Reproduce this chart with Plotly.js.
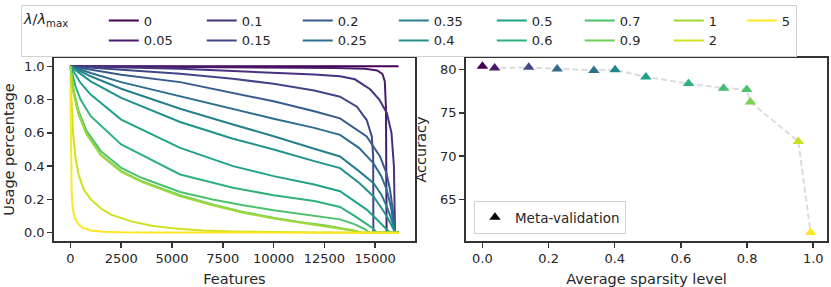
<!DOCTYPE html>
<html><head><meta charset="utf-8">
<script src="https://cdn.plot.ly/plotly-3.0.1.min.js"></script>
<style>html,body{margin:0;padding:0;background:#fff}</style>
</head><body><div id="chart" style="width:831px;height:287px"></div>
<script>
// ---- legend labels (lambda / lambda_max) ----
const lambdaLabels = ['0','0.05','0.1','0.15','0.2','0.25','0.35','0.4','0.5','0.6','0.7','0.9','1','2','5'];
const featureTicks = [0, 2500, 5000, 7500, 10000, 12500, 15000];
const featureTickText = ['0','2500','5000','7500','10000','12500','15000'];

// ---- left panel: sorted feature usage per lambda (feature index, usage) ----
const feat_0    = [0, 16150];
const usage_0   = [1, 1];
const feat_005  = [0, 5000, 10000, 13000, 14500, 15100, 15350, 15470, 15530, 15560, 16150];
const usage_005 = [1, .997, .994, .99, .985, .975, .955, .91, .75, 0, 0];
const feat_01   = [0, 2500, 5400, 8000, 10000, 12000, 13268, 14000, 14750, 15200, 15570, 15800, 15920, 15960, 15975, 16150];
const usage_01  = [1, .995, .985, .972, .962, .951, .94, .922, .862, .8, .72, .6, .4, .15, 0, 0];
const feat_015  = [0, 1000, 2500, 5400, 8000, 10000, 12000, 13268, 14100, 14580, 14830, 14900, 14910, 16150];
const usage_015 = [1, .992, .978, .955, .925, .895, .855, .817, .757, .677, .578, .46, 0, 0];
const feat_02   = [0, 1000, 2500, 5400, 8000, 10000, 12000, 13268, 14580, 15236, 15550, 15728, 15850, 15925, 15974, 16150];
const usage_02  = [1, .98, .95, .905, .84, .79, .73, .687, .578, .458, .36, .259, .15, .06, 0, 0];
const feat_025  = [0, 1000, 2500, 5400, 8000, 10000, 12000, 13268, 14200, 14908, 15300, 15564, 15780, 15892, 15974, 16150];
const usage_025 = [1, .96, .905, .82, .74, .685, .63, .588, .51, .418, .34, .259, .15, .06, 0, 0];
const feat_035  = [0, 1000, 2500, 5400, 8000, 10000, 12000, 13268, 14200, 14908, 15300, 15564, 15800, 15900, 15990, 16150];
const usage_035 = [1, .94, .865, .745, .65, .58, .505, .458, .37, .299, .23, .159, .08, .04, 0, 0];
const feat_04   = [0, 1000, 2500, 5400, 8000, 10000, 12000, 13268, 14200, 14908, 15300, 15564, 15800, 15900, 15990, 16150];
const usage_04  = [1, .91, .81, .665, .565, .5, .43, .388, .3, .219, .15, .1, .045, .02, 0, 0];
const feat_05   = [0, 500, 1000, 2500, 5400, 8000, 10000, 12000, 13268, 14000, 14580, 15000, 15400, 15600, 15728, 16150];
const usage_05  = [1, .9, .83, .68, .51, .4, .34, .29, .249, .19, .139, .09, .04, .012, 0, 0];
const feat_06   = [0, 250, 500, 1000, 2500, 5400, 8000, 10000, 12000, 13268, 14000, 14500, 14900, 15072, 16150];
const usage_06  = [1, .88, .8, .7, .53, .35, .27, .225, .19, .155, .1, .06, .025, 0, 0];
const feat_07   = [0, 150, 400, 800, 1500, 2500, 3500, 5400, 7000, 8500, 10000, 11500, 13268, 14000, 14500, 14700, 16150];
const usage_07  = [1, .86, .73, .61, .49, .39, .33, .245, .2, .165, .135, .11, .08, .05, .02, 0, 0];
const feat_09   = [0, 150, 400, 800, 1500, 2500, 3500, 5400, 7000, 8500, 10000, 11500, 12500, 13268, 14000, 14300, 16150];
const usage_09  = [1, .85, .715, .595, .47, .37, .31, .225, .17, .125, .09, .06, .045, .03, .012, 0, 0];
const feat_1    = [0, 150, 400, 800, 1500, 2500, 3500, 5400, 7000, 8500, 10000, 11500, 12500, 13268, 14000, 14300, 16150];
const usage_1   = [1, .845, .71, .59, .465, .365, .305, .218, .165, .12, .085, .057, .042, .028, .01, 0, 0];
const feat_2    = [0, 60, 130, 250, 400, 650, 1000, 1500, 2000, 3000, 4000, 5000, 6500, 8000, 10000, 12000, 16150];
const usage_2   = [.945, .75, .6, .45, .35, .26, .2, .145, .108, .068, .042, .026, .013, .007, .003, .001, 0];
const feat_5    = [0, 15, 35, 60, 100, 150, 250, 400, 600, 1000, 1600, 2500, 4000, 16150];
const usage_5   = [.87, .6, .4, .25, .17, .12, .08, .05, .03, .013, .006, .002, .001, 0];

const featSets  = [feat_0, feat_005, feat_01, feat_015, feat_02, feat_025, feat_035, feat_04, feat_05, feat_06, feat_07, feat_09, feat_1, feat_2, feat_5];
const usageSets = [usage_0, usage_005, usage_01, usage_015, usage_02, usage_025, usage_035, usage_04, usage_05, usage_06, usage_07, usage_09, usage_1, usage_2, usage_5];

// ---- right panel: meta-validation accuracy vs average sparsity ----
const sparsity = [0.0, 0.037, 0.140, 0.226, 0.337, 0.401, 0.494, 0.623, 0.729, 0.799, 0.810, 0.955, 0.992];
const accuracy = [80.37, 80.17, 80.25, 80.06, 79.90, 79.98, 79.14, 78.38, 77.85, 77.70, 76.25, 71.68, 61.17];

// ---- styles ----
const viridisStops = [[0,'#440154'],[0.0627,'#48186a'],[0.1255,'#472d7b'],[0.1882,'#424086'],[0.2510,'#3b528b'],[0.3137,'#33638d'],[0.3765,'#2c728e'],[0.4392,'#26828e'],[0.5020,'#21918c'],[0.5647,'#1fa088'],[0.6275,'#28ae80'],[0.6902,'#3fbc73'],[0.7529,'#5ec962'],[0.8157,'#84d44b'],[0.8784,'#addc30'],[0.9412,'#d8e219'],[1,'#fde725']];
function hex2rgb(h){return [1,3,5].map(i=>parseInt(h.substr(i,2),16));}
function viridis(t){
  for(let i=1;i<viridisStops.length;i++){
    const [t1,c1]=viridisStops[i-1],[t2,c2]=viridisStops[i];
    if(t<=t2){const a=(t-t1)/(t2-t1);const r1=hex2rgb(c1),r2=hex2rgb(c2);
      const c=r1.map((v,k)=>Math.round(v+(r2[k]-v)*a));return 'rgb('+c.join(',')+')';}
  }
  return '#fde725';
}
const pointColors = ['#440154','#48186a','#3e4a89','#2f6c8e','#2c728e','#25848e','#1f9f88','#2db27d','#40bd72','#4cc26c','#7ad151','#c8e020','#fde725'];
const colWidths = [53,53,51,51,51,51,53,53,43,43,44,44,28,28,0];

const traces = [];
lambdaLabels.forEach((lab,i)=>{
  const tr = {
    type:'scatter', mode:'lines', x:featSets[i], y:usageSets[i], name:lab,
    xaxis:'x', yaxis:'y', line:{color:viridis(i/14), width:2},
    legendgroup:'col'+Math.floor(i/2), showlegend:true, legend:'legend', hoverinfo:'skip'
  };
  if (colWidths[i]) tr.legendwidth = colWidths[i];
  traces.push(tr);
});
traces.push({type:'scatter', mode:'lines', x:sparsity, y:accuracy, xaxis:'x2', yaxis:'y2',
  line:{color:'#dcdcdc', width:2, dash:'6px,3px'}, showlegend:false, hoverinfo:'skip'});
traces.push({type:'scatter', mode:'markers', x:sparsity, y:accuracy, xaxis:'x2', yaxis:'y2',
  marker:{symbol:'triangle-up', size:10, color:pointColors}, showlegend:false});
traces.push({type:'scatter', mode:'markers', x:[null], y:[null], xaxis:'x2', yaxis:'y2', name:'Meta-validation',
  marker:{symbol:'triangle-up', size:10, color:'#000'}, showlegend:true, legend:'legend2'});

const axCommon = {showline:true, mirror:true, linecolor:'#333', linewidth:1.8, ticks:'outside', ticklen:5,
  tickwidth:1.5, tickcolor:'#333', showgrid:false, zeroline:false, tickfont:{size:13, color:'#262626'}};
const layout = {
  width:831, height:287, margin:{l:54, r:4, t:56, b:46},
  paper_bgcolor:'#fff', plot_bgcolor:'#fff',
  font:{family:'DejaVu Sans, sans-serif', color:'#262626'},
  xaxis:Object.assign({}, axCommon, {domain:[0,0.467], range:[-807.5,16957.5], tickvals:featureTicks, ticktext:featureTickText,
    title:{text:'Features', font:{size:14.5}}}),
  yaxis:Object.assign({}, axCommon, {domain:[0,1], range:[-0.05,1.05], tickvals:[0,0.2,0.4,0.6,0.8,1.0], tickformat:'.1f',
    title:{text:'Usage percentage', font:{size:14.5}}}),
  xaxis2:Object.assign({}, axCommon, {domain:[0.533,1], anchor:'y2', range:[-0.0496,1.0416], tickvals:[0,0.2,0.4,0.6,0.8,1.0], tickformat:'.1f',
    title:{text:'Average sparsity level', font:{size:14.5}}}),
  yaxis2:Object.assign({}, axCommon, {domain:[0,1], anchor:'x2', range:[60.2,81.33], tickvals:[65,70,75,80],
    title:{text:'Accuracy', font:{size:14.5}}}),
  showlegend:true,
  legend:{orientation:'h', traceorder:'grouped', x:-0.0427, xanchor:'left', y:1.292, yanchor:'top',
    bordercolor:'#d0d0d0', borderwidth:1, bgcolor:'#fff', font:{size:13, color:'#262626'}, tracegroupgap:0,
    title:{text:'<i>λ</i>/<i>λ</i><sub>max</sub>\u00a0\u00a0\u00a0\u00a0\u00a0\u00a0', side:'left', font:{size:14.5}}},
  legend2:{x:0.5433, xanchor:'left', y:0.0378, yanchor:'bottom', bordercolor:'#d0d0d0', borderwidth:1,
    bgcolor:'rgba(255,255,255,0.8)', font:{size:13.5, color:'#262626'}}
};
Plotly.newPlot('chart', traces, layout, {staticPlot:true, displayModeBar:false});
</script></body></html>
